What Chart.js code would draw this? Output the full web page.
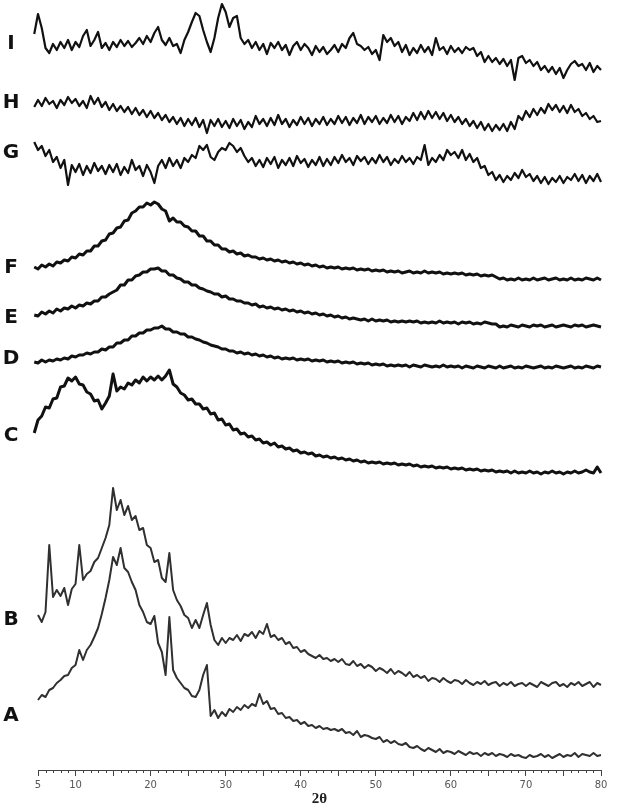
<!DOCTYPE html>
<html lang="en">
  <head>
    <meta charset="UTF-8" />
    <title>Difratogramas A - I</title>
    <script src="https://cdn.jsdelivr.net/npm/chart.js@4.4.1/dist/chart.umd.min.js"></script>
    <style>
      html,
      body {
        margin: 0;
        padding: 0;
        background: #fff;
      }
      #area {
        position: relative;
        width: 631px;
        height: 811px;
      }
    </style>
  </head>

  <body>
    <div id="area"><canvas id="grafico"></canvas></div>

    <script>
      // eixo 2θ
      var thetaMin = 5;
      var thetaMax = 80;
      var thetaStep = 0.5;
      var tickLabels = [5, 10, 20, 30, 40, 50, 60, 70, 80];

      // curvas empilhadas, de baixo para cima
      var traceNames = ["A", "B", "C", "D", "E", "F", "G", "H", "I"];
      var traceStart = [5, 5, 4.5, 4.5, 4.5, 4.5, 4.5, 4.5, 3.5];
      var traceOffset = [5, 75, 290, 395, 440, 485, 575, 628, 685];
      var labelLevel = [49, 75, 44, 16, 12, 17, 42, 39, 41];

      // intensidades (uma linha = 5 graus)
      var intensityA = [
        65, 70, 68, 75, 77, 82, 85, 89, 90, 97,
        100, 115, 105, 115, 120, 128, 137, 151, 167, 185,
        208, 200, 217, 197, 193, 183, 175, 160, 153, 143,
        141, 149, 122, 113, 90, 148, 95, 87, 82, 77,
        75, 69, 68, 75, 90, 100, 49, 55, 47, 53,
        49, 56, 53, 58, 55, 60, 57, 61, 59, 71,
        61, 64, 56, 57, 51, 52, 47, 48, 44, 45,
        41, 43, 39, 40, 37, 39, 36, 37, 35, 36,
        34, 36, 32, 33, 30, 34, 28, 30, 29, 27,
        26, 28, 23, 25, 22, 24, 21, 20, 22, 18,
        17, 19, 16, 14, 17, 15, 13, 16, 12, 14,
        13, 11, 14, 12, 10, 13, 11, 12, 9, 12,
        10, 12, 9, 11, 10, 8, 11, 9, 10, 8,
        7, 10, 8, 9, 11, 8, 10, 7, 9, 11,
        8, 10, 9, 12, 8, 11, 10, 9, 12, 9,
        10
      ];
      var intensityB = [
        80, 73, 83, 150, 98, 105, 99, 107, 90, 106,
        111, 150, 115, 121, 124, 133, 137, 147, 157, 170,
        207, 185, 195, 180, 189, 175, 179, 165, 167, 150,
        147, 133, 135, 117, 113, 142, 105, 95, 89, 80,
        77, 67, 75, 67, 80, 92, 70, 55, 50, 57,
        52, 57, 55, 60, 54, 61, 59, 63, 57, 64,
        61, 71, 58, 60, 55, 57, 51, 53, 47, 48,
        43, 45, 41, 39, 37, 40, 36, 37, 34, 36,
        33, 36, 31, 30, 34, 29, 31, 27, 30, 28,
        24, 27, 25, 22, 26, 21, 24, 22, 19, 23,
        18, 20, 17, 19, 14, 17, 16, 13, 17, 14,
        12, 15, 14, 11, 15, 12, 10, 13, 11, 14,
        10, 12, 13, 9, 12, 10, 13, 9, 11, 12,
        9, 12, 10, 8, 13, 11, 9, 12, 13, 9,
        11, 8, 12, 10, 13, 9, 11, 13, 8, 12,
        10, 13, 11
      ];
      var intensityC = [
        47, 60, 64, 73, 72, 81, 82, 93, 94, 102,
        99, 103, 96, 95, 88, 86, 79, 80, 71, 77,
        84, 106, 89, 93, 91, 97, 95, 100, 97, 103,
        99, 103, 100, 104, 100, 104, 110, 96, 93, 87,
        85, 80, 81, 76, 76, 71, 72, 66, 67, 60,
        61, 55, 56, 50, 51, 46, 47, 43, 44, 40,
        41, 37, 38, 35, 37, 33, 34, 31, 32, 29,
        30, 27, 28, 26, 27, 24, 25, 23, 24, 22,
        23, 21, 22, 20, 21, 19, 20, 18, 19, 17,
        18, 17, 18, 16, 17, 16, 17, 15, 16, 15,
        16, 14, 15, 13, 14, 13, 14, 12, 13, 12,
        13, 11, 12, 11, 12, 10, 11, 10, 11, 9,
        10, 9, 10, 8, 9, 8, 9, 7, 9, 7,
        8, 7, 9, 7, 8, 6, 8, 7, 9, 7,
        8, 6, 8, 7, 9, 7, 8, 10, 8, 7,
        13, 7, 9, 6, 8, 7
      ];
      var intensityD = [
        13, 12, 15, 13, 15, 14, 16, 15, 17, 16,
        19, 18, 20, 20, 22, 21, 23, 23, 26, 25,
        28, 28, 32, 32, 35, 35, 39, 39, 42, 42,
        45, 45, 47, 47, 49, 46, 46, 43, 43, 41,
        41, 38, 38, 36, 35, 33, 32, 30, 29, 28,
        26, 26, 24, 24, 22, 23, 21, 22, 20, 21,
        19, 20, 18, 19, 17, 18, 16, 17, 16, 17,
        15, 16, 15, 16, 14, 15, 14, 15, 13, 14,
        13, 14, 12, 13, 12, 13, 11, 12, 11, 12,
        10, 11, 10, 11, 9, 10, 9, 10, 9, 10,
        8, 10, 9, 8, 10, 9, 8, 9, 8, 10,
        8, 9, 8, 9, 7, 9, 8, 7, 9, 8,
        7, 9, 8, 7, 9, 7, 8, 9, 7, 8,
        7, 9, 8, 7, 8, 9, 7, 8, 7, 9,
        8, 7, 8, 9, 7, 8, 7, 9, 8, 7,
        9, 8, 7, 8, 7, 8
      ];
      var intensityE = [
        15, 14, 18, 16, 19, 17, 21, 19, 22, 21,
        24, 22, 25, 24, 27, 26, 29, 29, 33, 33,
        36, 38, 40, 45, 45, 50, 50, 54, 55, 58,
        58, 61, 61, 62, 59, 59, 55, 55, 52, 51,
        48, 48, 45, 45, 42, 41, 39, 38, 36, 36,
        33, 34, 31, 31, 29, 29, 27, 27, 25, 26,
        23, 24, 22, 23, 21, 22, 20, 21, 19, 20,
        18, 19, 17, 18, 16, 17, 15, 16, 14, 15,
        13, 14, 12, 13, 11, 12, 11, 10, 11, 9,
        11, 9, 10, 9, 10, 8, 9, 8, 9, 8,
        9, 8, 9, 7, 8, 7, 8, 7, 9, 7,
        8, 7, 8, 6, 8, 7, 8, 6, 7, 6,
        8, 7, 6, 6, 3, 4, 3, 5, 4, 3,
        5, 4, 3, 5, 4, 5, 3, 4, 5, 3,
        4, 5, 4, 3, 5, 4, 5, 3, 4, 5,
        4, 3, 5, 4, 5, 4
      ];
      var intensityF = [
        18, 16, 20, 18, 21, 19, 23, 22, 25, 24,
        28, 27, 31, 30, 34, 34, 39, 39, 44, 45,
        51, 52, 57, 58, 64, 65, 72, 74, 78, 78,
        82, 80, 83, 81, 76, 74, 64, 67, 63, 63,
        59, 58, 54, 54, 49, 49, 44, 44, 40, 40,
        36, 36, 33, 34, 31, 32, 29, 30, 28, 28,
        26, 27, 25, 26, 24, 25, 23, 24, 22, 23,
        21, 22, 20, 21, 19, 20, 18, 19, 17, 18,
        17, 18, 16, 17, 16, 17, 15, 16, 15, 16,
        14, 15, 14, 15, 13, 14, 13, 14, 12, 13,
        14, 12, 13, 12, 14, 12, 13, 12, 13, 11,
        12, 11, 12, 11, 12, 10, 11, 10, 11, 9,
        10, 9, 10, 8, 6, 7, 5, 6, 5, 7,
        5, 6, 5, 7, 5, 6, 7, 5, 6, 7,
        5, 6, 5, 7, 5, 6, 5, 7, 6, 5,
        7, 5, 6, 5, 7, 6
      ];
      var intensityG = [
        53, 45, 49, 39, 45, 33, 38, 27, 35, 10,
        30, 23, 31, 20, 29, 22, 32, 24, 29, 21,
        30, 23, 31, 20, 28, 22, 35, 25, 29, 19,
        30, 23, 12, 29, 35, 27, 37, 29, 35, 27,
        37, 33, 40, 37, 49, 45, 50, 38, 35, 43,
        47, 45, 52, 49, 43, 47, 39, 33, 37, 29,
        35, 28, 37, 31, 38, 27, 35, 30, 37, 29,
        39, 32, 36, 28, 35, 30, 38, 29, 36, 30,
        38, 32, 40, 33, 37, 30, 39, 34, 38, 31,
        37, 32, 40, 33, 38, 30, 36, 32, 39, 33,
        37, 31, 38, 35, 50, 30, 37, 33, 40, 35,
        45, 40, 43, 37, 45, 35, 41, 33, 37, 27,
        29, 20, 23, 15, 20, 13, 19, 15, 22, 17,
        25, 18, 21, 14, 19, 12, 18, 11, 17, 13,
        19, 12, 18, 15, 21, 14, 20, 12, 19, 14,
        21, 13, 18, 11, 19, 12, 17, 10, 15
      ];
      var intensityH = [
        35, 42, 36, 44, 38, 41, 34, 42, 37, 45,
        39, 43, 36, 41, 34, 46, 38, 44, 35, 40,
        32, 38, 31, 36, 30, 35, 28, 34, 27, 32,
        25, 31, 24, 29, 22, 27, 20, 25, 18, 24,
        16, 23, 17, 24, 15, 22, 9, 22, 16, 23,
        15, 21, 14, 23, 16, 22, 13, 20, 15, 26,
        18, 23, 16, 24, 17, 27, 18, 23, 15, 22,
        17, 25, 18, 24, 16, 23, 18, 25, 17, 23,
        18, 26, 19, 25, 17, 24, 19, 27, 18, 25,
        20, 26, 18, 24, 19, 27, 20, 26, 18, 25,
        21, 29, 22, 30, 23, 31, 24, 30, 23, 29,
        21, 27, 20, 25, 18, 23, 16, 21, 14, 20,
        12, 18, 11, 17, 12, 18, 11, 20, 13, 26,
        22, 31, 25, 33, 27, 34, 29, 38, 32, 37,
        30, 36, 29, 37, 30, 33, 26, 29, 23, 26,
        20, 21, 16, 17, 11, 12, 8, 9, 6
      ];
      var intensityI = [
        33, 45, 51, 71, 57, 37, 32, 41, 35, 43,
        37, 45, 35, 43, 38, 49, 55, 39, 45, 53,
        37, 42, 35, 43, 38, 45, 39, 44, 38, 42,
        47, 41, 49, 43, 52, 58, 45, 40, 47, 39,
        41, 32, 45, 53, 63, 72, 69, 55, 43, 33,
        47, 67, 81, 73, 58, 67, 69, 47, 41, 45,
        37, 43, 35, 41, 31, 42, 37, 43, 35, 40,
        30, 39, 43, 35, 41, 37, 30, 39, 33, 38,
        31, 35, 40, 33, 41, 37, 47, 52, 41, 39,
        35, 38, 31, 35, 25, 50, 43, 47, 39, 43,
        33, 40, 30, 37, 32, 40, 33, 38, 30, 47,
        35, 38, 31, 39, 33, 37, 32, 38, 35, 37,
        29, 33, 23, 29, 23, 27, 21, 26, 19, 25,
        5, 27, 29, 22, 25, 19, 23, 15, 19, 13,
        18, 11, 17, 7, 15, 21, 24, 19, 21, 15,
        22, 13, 19, 15, 18, 13, 17, 11, 19, 9,
        21
      ];

      var intensities = [
        intensityA, intensityB, intensityC, intensityD, intensityE,
        intensityF, intensityG, intensityH, intensityI
      ];

      var datasets = traceNames.map(function (nome, i) {
        var pontos = intensities[i].map(function (v, k) {
          return { x: traceStart[i] + k * thetaStep, y: traceOffset[i] + v };
        });
        var fino = i < 2; // A e B são mais finas e acinzentadas
        return {
          label: nome,
          data: pontos,
          borderColor: fino ? "#303030" : "#111",
          borderWidth: fino ? 2 : i < 6 ? 3 : 2.2,
          borderJoinStyle: "round",
          pointRadius: 0,
          tension: 0,
          fill: false,
          clip: false,
        };
      });

      // tracinhos menores do eixo e letras das curvas
      var extras = {
        id: "extras",
        afterDraw: function (chart) {
          var ctx = chart.ctx;
          var xs = chart.scales.x;
          var ys = chart.scales.y;
          var area = chart.chartArea;
          ctx.save();
          ctx.strokeStyle = "#444";
          ctx.lineWidth = 1;
          for (var t = thetaMin; t <= thetaMax; t++) {
            if (t % 5 === 0) continue;
            var px = Math.round(xs.getPixelForValue(t)) + 0.5;
            ctx.beginPath();
            ctx.moveTo(px, area.bottom);
            ctx.lineTo(px, area.bottom + 3);
            ctx.stroke();
          }
          ctx.fillStyle = "#111";
          ctx.font = "bold 20px 'DejaVu Sans'";
          ctx.textAlign = "center";
          ctx.textBaseline = "middle";
          traceNames.forEach(function (nome, i) {
            ctx.fillText(nome, area.left - 27, ys.getPixelForValue(traceOffset[i] + labelLevel[i]));
          });
          ctx.restore();
        },
      };

      var grafico = new Chart(document.getElementById("grafico"), {
        type: "line",
        data: { datasets: datasets },
        options: {
          responsive: true,
          maintainAspectRatio: false,
          animation: false,
          layout: { padding: { left: 38, right: 30, top: 0, bottom: 0 } },
          plugins: {
            legend: { display: false },
            tooltip: { enabled: false },
          },
          scales: {
            x: {
              type: "linear",
              min: thetaMin,
              max: thetaMax,
              afterFit: function (s) {
                s.height = 41;
              },
              border: { display: true, color: "#444", width: 1 },
              grid: {
                drawOnChartArea: false,
                drawTicks: true,
                tickLength: 6,
                tickColor: function (c) {
                  return c.tick && c.tick.value % 5 === 0 ? "#444" : "rgba(0,0,0,0)";
                },
              },
              ticks: {
                stepSize: 1,
                autoSkip: false,
                maxRotation: 0,
                padding: 3,
                color: "#555",
                font: { family: "DejaVu Sans", size: 10 },
                callback: function (v) {
                  return tickLabels.indexOf(v) >= 0 ? String(v) : "";
                },
              },
              title: {
                display: true,
                text: "2θ",
                color: "#222",
                font: { family: "Liberation Serif", size: 15, weight: "bold" },
                padding: { top: 2, bottom: 3 },
              },
            },
            y: { display: false, min: 0, max: 770 },
          },
        },
        plugins: [extras],
      });
    </script>
  </body>
</html>
